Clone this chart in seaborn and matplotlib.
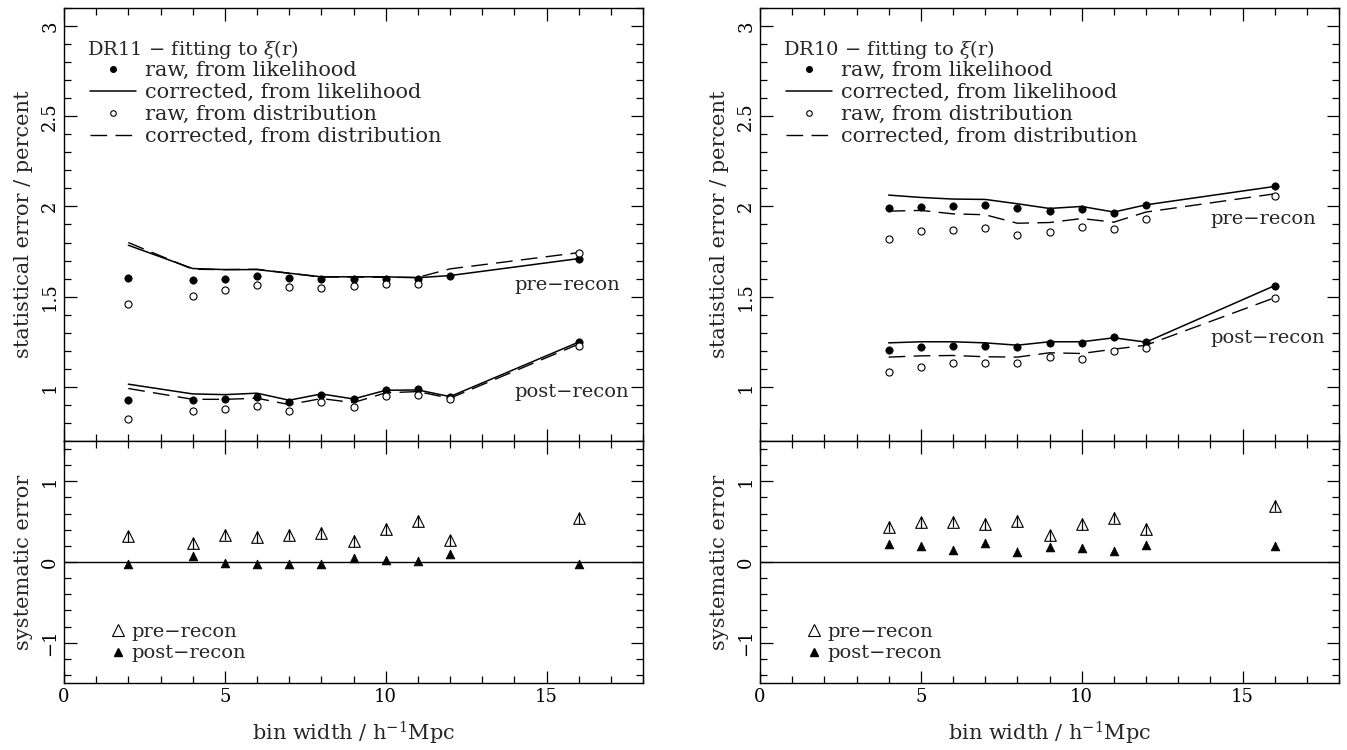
import numpy as np
import pandas as pd
import matplotlib
matplotlib.use('Agg')
import matplotlib.pyplot as plt
from matplotlib.lines import Line2D
from matplotlib.ticker import MultipleLocator
import seaborn as sns

# ---- DR11 (left column) ----
dr11_x = [2, 4, 5, 6, 7, 8, 9, 10, 11, 12, 16]
dr11_pre_raw_like = [1.602, 1.594, 1.600, 1.613, 1.606, 1.596, 1.598, 1.598, 1.598, 1.617, 1.711]
dr11_pre_cor_like = [1.785, 1.656, 1.650, 1.650, 1.630, 1.610, 1.610, 1.610, 1.605, 1.617, 1.711]
dr11_pre_raw_dist = [1.457, 1.506, 1.535, 1.565, 1.554, 1.548, 1.559, 1.572, 1.569, np.nan, 1.741]
dr11_pre_cor_dist = [1.800, 1.652, 1.650, 1.652, 1.630, 1.609, 1.609, 1.607, 1.607, 1.654, 1.744]
dr11_post_raw_like = [0.928, 0.928, 0.935, 0.946, 0.915, 0.954, 0.931, 0.981, 0.987, 0.946, 1.248]
dr11_post_cor_like = [1.015, 0.961, 0.957, 0.965, 0.926, 0.961, 0.933, 0.981, 0.983, 0.946, 1.248]
dr11_post_raw_dist = [0.824, 0.865, 0.880, 0.896, 0.867, 0.915, 0.891, 0.950, 0.957, 0.931, 1.228]
dr11_post_cor_dist = [0.991, 0.931, 0.931, 0.937, 0.902, 0.935, 0.913, 0.967, 0.974, 0.937, 1.237]
dr11_sys_pre = [0.32, 0.23, 0.34, 0.31, 0.34, 0.36, 0.26, 0.41, 0.51, 0.27, 0.54]
dr11_sys_post = [-0.03, 0.08, -0.01, -0.02, -0.03, -0.03, 0.05, 0.03, 0.01, 0.10, -0.03]
dr11_sys_pre_err = [0.07, 0.07, 0.07, 0.07, 0.07, 0.07, 0.07, 0.07, 0.07, 0.07, 0.07]
dr11_sys_post_err = [0.05, 0.05, 0.05, 0.05, 0.05, 0.05, 0.05, 0.05, 0.05, 0.05, 0.05]

# ---- DR10 (right column) ----
dr10_x = [4, 5, 6, 7, 8, 9, 10, 11, 12, 16]
dr10_pre_raw_like = [1.991, 1.996, 2.004, 2.009, 1.993, 1.976, 1.985, 1.963, 2.006, 2.111]
dr10_pre_cor_like = [2.063, 2.050, 2.041, 2.039, 2.015, 1.989, 2.000, 1.969, 2.009, 2.111]
dr10_pre_raw_dist = [1.817, 1.865, 1.869, 1.880, 1.844, 1.857, 1.885, 1.874, 1.928, 2.059]
dr10_pre_cor_dist = [1.974, 1.978, 1.959, 1.954, 1.907, 1.911, 1.933, 1.913, 1.969, 2.070]
dr10_post_raw_like = [1.206, 1.222, 1.228, 1.228, 1.219, 1.244, 1.244, 1.276, 1.248, 1.561]
dr10_post_cor_like = [1.244, 1.250, 1.250, 1.244, 1.231, 1.250, 1.250, 1.272, 1.248, 1.561]
dr10_post_raw_dist = [1.085, 1.111, 1.130, 1.130, 1.130, 1.163, 1.156, 1.200, 1.217, 1.493]
dr10_post_cor_dist = [1.165, 1.172, 1.174, 1.167, 1.165, 1.189, 1.185, 1.209, 1.231, 1.494]
dr10_sys_pre = [0.44, 0.49, 0.50, 0.47, 0.51, 0.33, 0.47, 0.55, 0.41, 0.70]
dr10_sys_post = [0.22, 0.20, 0.15, 0.24, 0.13, 0.19, 0.17, 0.14, 0.21, 0.20]
dr10_sys_pre_err = [0.07, 0.07, 0.07, 0.07, 0.07, 0.07, 0.07, 0.07, 0.07, 0.07]
dr10_sys_post_err = [0.05, 0.05, 0.05, 0.05, 0.05, 0.05, 0.05, 0.05, 0.05, 0.05]

sns.set_style('ticks')
plt.rcParams['font.family'] = ['DejaVu Serif']
plt.rcParams['mathtext.fontset'] = 'dejavuserif'

FS = 13        # tick labels
FS_LAB = 15    # axis labels
FS_LEG = 15    # legend text
DASH = (0, (12, 6))

fig = plt.figure(figsize=(13.47, 7.5), dpi=100)

columns = [
    dict(name='DR11', x=dr11_x, left=64 / 1347,
         pre=[dr11_pre_raw_like, dr11_pre_cor_like, dr11_pre_raw_dist, dr11_pre_cor_dist],
         post=[dr11_post_raw_like, dr11_post_cor_like, dr11_post_raw_dist, dr11_post_cor_dist],
         sys=[dr11_sys_pre, dr11_sys_pre_err, dr11_sys_post, dr11_sys_post_err],
         pre_lab=(14.0, 1.565), post_lab=(14.0, 0.97)),
    dict(name='DR10', x=dr10_x, left=760 / 1347,
         pre=[dr10_pre_raw_like, dr10_pre_cor_like, dr10_pre_raw_dist, dr10_pre_cor_dist],
         post=[dr10_post_raw_like, dr10_post_cor_like, dr10_post_raw_dist, dr10_post_cor_dist],
         sys=[dr10_sys_pre, dr10_sys_pre_err, dr10_sys_post, dr10_sys_post_err],
         pre_lab=(14.0, 1.93), post_lab=(14.0, 1.27)),
]

width = 579 / 1347
top_y0, top_h = 1 - 441 / 750, 433 / 750
bot_y0, bot_h = 1 - 683 / 750, 242 / 750


def style_axis(ax):
    ax.tick_params(which='both', direction='in', top=True, right=True,
                   labelsize=FS, colors='black', width=0.9)
    ax.tick_params(which='major', length=9)
    ax.tick_params(which='minor', length=5)
    for s in ax.spines.values():
        s.set_linewidth(1.0)
        s.set_color('black')
    for lab in ax.get_yticklabels():
        lab.set_rotation(90)
        lab.set_va('center')


for col in columns:
    x = col['x']
    # ---- top: statistical error ----
    ax = fig.add_axes([col['left'], top_y0, width, top_h])
    for series in (col['pre'], col['post']):
        raw_like, cor_like, raw_dist, cor_dist = series
        sns.lineplot(x=x, y=cor_like, ax=ax, color='black', linewidth=1.1, sort=False)
        sns.lineplot(x=x, y=cor_dist, ax=ax, color='black', linewidth=1.0, linestyle=DASH, sort=False)
        sns.scatterplot(x=x, y=raw_like, ax=ax, color='black', s=28, marker='o',
                        edgecolor='black', linewidth=0.5, zorder=4)
        sns.scatterplot(x=x, y=raw_dist, ax=ax, facecolor='white', s=26, marker='o',
                        edgecolor='black', linewidth=0.8, zorder=4)
    ax.set_xlim(0, 18)
    ax.set_ylim(0.7, 3.1)
    ax.xaxis.set_major_locator(MultipleLocator(5))
    ax.xaxis.set_minor_locator(MultipleLocator(1))
    ax.yaxis.set_minor_locator(MultipleLocator(0.1))
    ax.set_yticks([1, 1.5, 2, 2.5, 3])
    ax.set_yticklabels(['1', '1.5', '2', '2.5', '3'])
    ax.tick_params(labelbottom=False)
    ax.set_xlabel('')
    ax.set_ylabel('statistical error / percent', fontsize=FS_LAB, labelpad=6)
    style_axis(ax)

    ax.text(0.04, 0.905, col['name'] + ' \u2212 fitting to $\\xi$(r)', transform=ax.transAxes,
            fontsize=14, va='center', ha='left')
    handles = [
        Line2D([], [], color='black', marker='o', linestyle='none', markersize=4),
        Line2D([], [], color='black', linewidth=1.1),
        Line2D([], [], color='black', marker='o', linestyle='none', markersize=4,
               markerfacecolor='white', markeredgewidth=0.8),
        Line2D([], [], color='black', linewidth=1.0, linestyle=DASH),
    ]
    labels = ['raw, from likelihood', 'corrected, from likelihood',
              'raw, from distribution', 'corrected, from distribution']
    ax.legend(handles, labels, loc='upper left', bbox_to_anchor=(0.045, 0.877),
              frameon=False, fontsize=FS_LEG, handlelength=2.2, handletextpad=0.45,
              labelspacing=0.14, borderaxespad=0, borderpad=0)

    ax.text(col['pre_lab'][0], col['pre_lab'][1], 'pre\u2212recon', fontsize=14,
            va='center', ha='left')
    ax.text(col['post_lab'][0], col['post_lab'][1], 'post\u2212recon', fontsize=14,
            va='center', ha='left')

    # ---- bottom: systematic error ----
    bx = fig.add_axes([col['left'], bot_y0, width, bot_h])
    sys_pre, sys_pre_err, sys_post, sys_post_err = col['sys']
    bx.axhline(0, color='black', linewidth=1.0)
    sns.scatterplot(x=x, y=sys_pre, ax=bx, marker='^', s=70, facecolor='white',
                    edgecolor='black', linewidth=0.8, zorder=4)
    sns.scatterplot(x=x, y=sys_post, ax=bx, marker='^', s=40, color='black',
                    edgecolor='black', linewidth=0.5, zorder=4)
    bx.errorbar(x, sys_pre, yerr=sys_pre_err, fmt='none', ecolor='black',
                elinewidth=0.9, zorder=5)
    bx.errorbar(x, sys_post, yerr=sys_post_err, fmt='none', ecolor='black',
                elinewidth=0.9, zorder=5)
    bx.set_xlim(0, 18)
    bx.set_ylim(-1.5, 1.5)
    bx.xaxis.set_major_locator(MultipleLocator(5))
    bx.xaxis.set_minor_locator(MultipleLocator(1))
    bx.set_yticks([-1, 0, 1])
    bx.set_yticklabels(['\u22121', '0', '1'])
    bx.yaxis.set_minor_locator(MultipleLocator(0.2))
    bx.set_xlabel('bin width / h$^{-1}$Mpc', fontsize=FS_LAB, labelpad=10)
    bx.set_ylabel('systematic error', fontsize=FS_LAB, labelpad=6)
    style_axis(bx)

    bhandles = [
        Line2D([], [], marker='^', linestyle='none', markersize=8,
               markerfacecolor='white', markeredgecolor='black', markeredgewidth=0.8),
        Line2D([], [], marker='^', linestyle='none', markersize=6,
               color='black'),
    ]
    bx.legend(bhandles, ['pre\u2212recon', 'post\u2212recon'], loc='lower left',
              bbox_to_anchor=(0.08, 0.085), frameon=False, fontsize=14,
              handlelength=0.8, handletextpad=0.3, labelspacing=0.2,
              borderaxespad=0, borderpad=0)

fig.savefig('out.png', dpi=100)
